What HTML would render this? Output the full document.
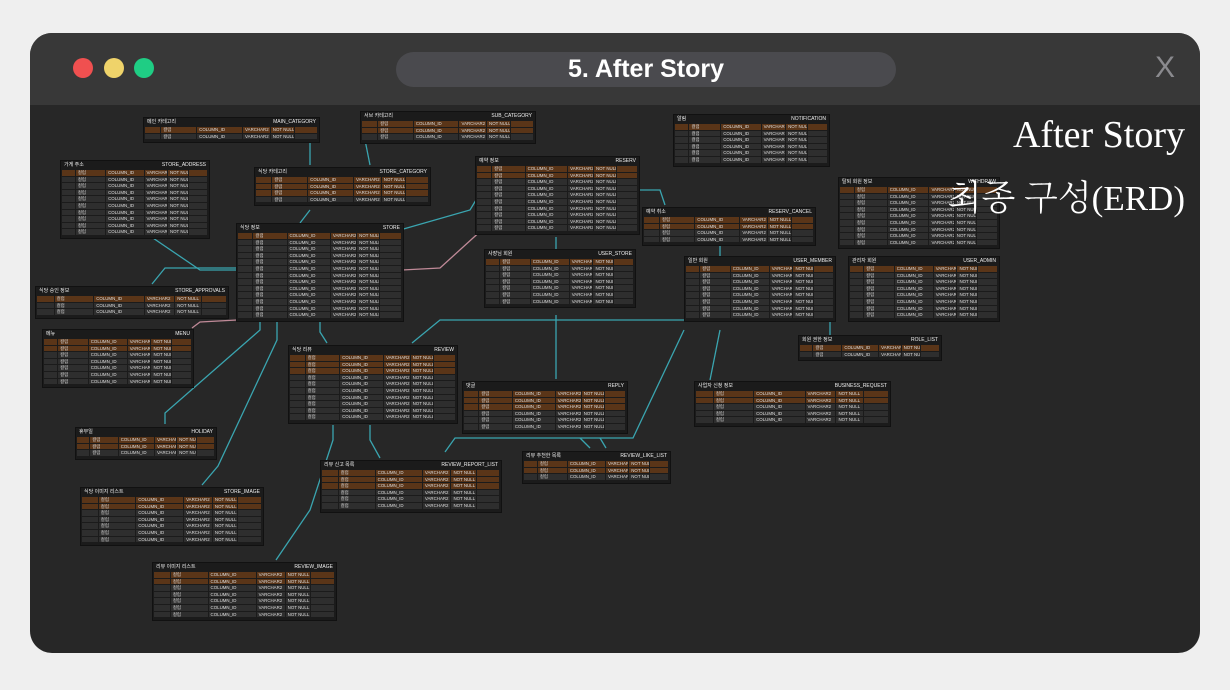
<!DOCTYPE html>
<html><head><meta charset="utf-8"><style>
body{margin:0;width:1230px;height:690px;background:#efefef;overflow:hidden;font-family:"Liberation Sans","Noto Sans CJK KR",sans-serif}
#win{position:absolute;left:30px;top:33px;width:1170px;height:620px;border-radius:22px;background:#272727;overflow:hidden}
#bar{position:absolute;left:0;top:0;width:1170px;height:72px;background:#383838}
.dot{position:absolute;top:25px;width:20px;height:20px;border-radius:50%}
#pill{position:absolute;left:366px;top:19px;width:500px;height:35px;border-radius:18px;background:#4a4a4e;color:#fff;font-weight:bold;font-size:25px;text-align:center;line-height:35px}
#x{position:absolute;left:1125px;top:18px;color:#8a8a8e;font-size:30px}
.t{position:absolute;background:#1b1b1b;border:1px solid #111;font-size:4.4px;color:#ddd}
.h{height:9px;line-height:9px;display:flex;justify-content:space-between;padding:0 3px;color:#eee;font-size:5px}
.r{height:6.6px;display:flex;margin:0 1px}
.r span{border-right:1px solid #1b1b1b;border-bottom:1px solid #1b1b1b;background:#2e2e2e;overflow:hidden;white-space:nowrap;line-height:6px;padding-left:2px}
.r.k span{background:#5a3518}
.big{position:absolute;z-index:5;color:#fff;font-family:"Liberation Serif","Noto Serif CJK SC",serif;font-weight:300;text-align:right}
</style></head><body>
<div id="win">
<div id="bar">
<div class="dot" style="left:43px;background:#f05050"></div>
<div class="dot" style="left:74px;background:#efd36a"></div>
<div class="dot" style="left:104px;background:#1fcd84"></div>
<div id="pill">5. After Story</div>
<div id="x">X</div>
</div>
<svg width="1170" height="620" style="position:absolute;left:0;top:0" fill="none" stroke="#3aa5b0" stroke-width="1.3">
<g transform="translate(-30,-33)">
<polyline points="150,236 200,270 236,270"/>
<polyline points="152,284 165,268 236,268"/>
<polyline points="192,328 200,322 237,320" stroke="#c08a98"/>
<polyline points="165,424 165,413 260,330 260,320"/>
<polyline points="202,485 218,466 277,340 277,322"/>
<polyline points="320,320 320,332 327,343"/>
<polyline points="276,560 310,510 333,440 333,425"/>
<polyline points="370,425 370,440 380,458"/>
<polyline points="402,270 440,268 484,228" stroke="#c08a98"/>
<polyline points="412,343 440,320 684,320"/>
<polyline points="556,237 556,249"/>
<polyline points="556,315 556,379"/>
<polyline points="445,452 455,438 633,438 684,330"/>
<polyline points="580,438 590,448"/>
<polyline points="600,438 606,448"/>
<polyline points="638,190 660,190 665,205"/>
<polyline points="720,240 720,256"/>
<polyline points="710,380 720,330"/>
<polyline points="830,335 830,320"/>
<polyline points="310,140 310,165"/>
<polyline points="365,140 370,165"/>
<polyline points="310,210 300,223"/>
<polyline points="400,230 470,210 476,200"/>
</g></svg>
<div id="tabs"></div>
<div class="big" style="left:900px;top:80px;width:255px;font-size:38px">After Story</div>
<div class="big" style="left:860px;top:138px;width:295px;font-size:35px">최종 구성(ERD)</div>
</div>
<script>
var T=[[143,117,175,2,1,"메인 카테고리","MAIN_CATEGORY"],[360,111,174,3,2,"서브 카테고리","SUB_CATEGORY"],[673,114,155,6,1,"알림","NOTIFICATION"],[60,160,148,10,1,"가게 주소","STORE_ADDRESS"],[254,167,175,4,3,"식당 카테고리","STORE_CATEGORY"],[475,156,163,10,2,"예약 정보","RESERV"],[838,177,160,9,1,"탈퇴 회원 정보","WITHDRAW"],[642,207,172,4,2,"예약 취소","RESERV_CANCEL"],[236,223,166,13,1,"식당 정보","STORE"],[484,249,150,7,1,"사장님 회원","USER_STORE"],[684,256,150,8,1,"일반 회원","USER_MEMBER"],[848,256,150,8,1,"관리자 회원","USER_ADMIN"],[35,286,192,3,1,"식당 승인 정보","STORE_APPROVALS"],[42,329,150,7,2,"메뉴","MENU"],[288,345,168,10,3,"식당 리뷰","REVIEW"],[798,335,142,2,1,"회원 권한 정보","ROLE_LIST"],[462,381,164,6,3,"댓글","REPLY"],[694,381,195,5,2,"사업자 신청 정보","BUSINESS_REQUEST"],[75,427,140,3,2,"휴무일","HOLIDAY"],[320,460,180,6,3,"리뷰 신고 목록","REVIEW_REPORT_LIST"],[522,451,147,3,2,"리뷰 추천한 목록","REVIEW_LIKE_LIST"],[80,487,182,7,2,"식당 이미지 리스트","STORE_IMAGE"],[152,562,183,7,2,"리뷰 이미지 리스트","REVIEW_IMAGE"]];
var h="";T.forEach(function(t){h+='<div class="t" style="left:'+(t[0]-30)+'px;top:'+(t[1]-33)+'px;width:'+t[2]+'px"><div class="h"><span>'+t[5]+'</span><span>'+t[6]+'</span></div>';
var w=t[2]-2;for(var i=0;i<t[3];i++){h+='<div class="r'+(i<t[4]?' k':'')+'"><span style="width:'+(w*.08)+'px"></span><span style="width:'+(w*.2)+'px">컬럼</span><span style="width:'+(w*.26)+'px">COLUMN_ID</span><span style="width:'+(w*.15)+'px">VARCHAR2</span><span style="width:'+(w*.13)+'px">NOT NULL</span><span style="width:'+(w*.12)+'px"></span></div>';}
h+='<div style="height:2px"></div></div>';});
document.getElementById("tabs").innerHTML=h;
</script>
</body></html>
